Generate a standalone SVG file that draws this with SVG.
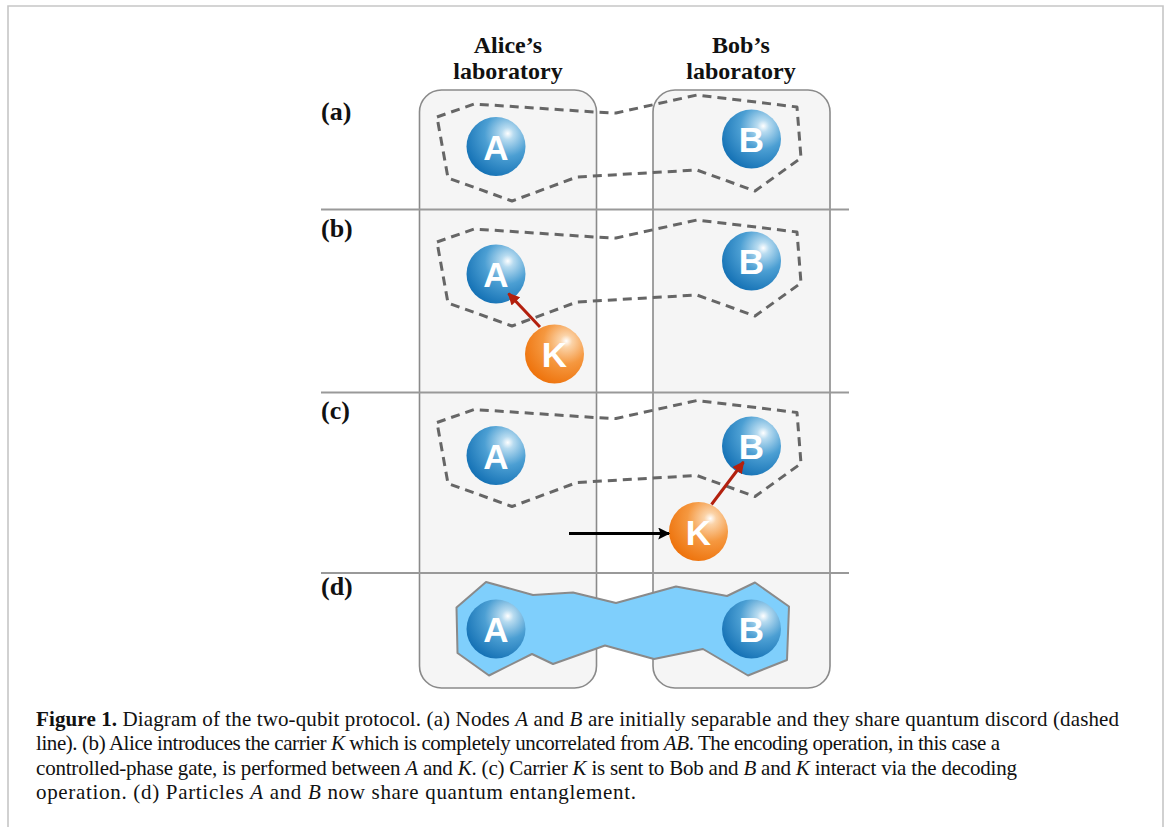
<svg xmlns="http://www.w3.org/2000/svg" width="1167" height="827" viewBox="0 0 1167 827">
<style>
.frame{fill:none;stroke:#c6c6c6;stroke-width:1.6}
.lab{fill:#f5f5f5;stroke:#8a8a8a;stroke-width:1.6}
.sep{stroke:#999;stroke-width:2}
.disc{fill:none;stroke:#666;stroke-width:3;stroke-dasharray:9 6;stroke-linejoin:round}
.ent{fill:#7fcffc;stroke:#8a8a8a;stroke-width:2;stroke-linejoin:round}
.head{font-family:"Liberation Serif",serif;font-weight:bold;font-size:24px;fill:#111;text-anchor:middle}
.plab{font-family:"Liberation Serif",serif;font-weight:bold;font-size:26px;fill:#111}
.ltr{font-family:"Liberation Sans",Arial,sans-serif;font-weight:bold;font-size:35px;fill:#fff;text-anchor:middle}
.cap{font-family:"Liberation Serif",serif;font-size:21px;fill:#111}
.red{stroke:#b3200e;stroke-width:3;fill:none}
.blk{stroke:#000;stroke-width:3;fill:none}
</style>
<defs>
<radialGradient id="gBlue" cx="0.68" cy="0.3" r="0.85" fx="0.7" fy="0.28">
<stop offset="0" stop-color="#ffffff"/>
<stop offset="0.12" stop-color="#b7dbf0"/>
<stop offset="0.45" stop-color="#4c9fd3"/>
<stop offset="1" stop-color="#0867ae"/>
</radialGradient>
<radialGradient id="gOrange" cx="0.68" cy="0.3" r="0.85" fx="0.7" fy="0.28">
<stop offset="0" stop-color="#ffffff"/>
<stop offset="0.12" stop-color="#fbd3a8"/>
<stop offset="0.45" stop-color="#f59840"/>
<stop offset="1" stop-color="#ec6a00"/>
</radialGradient>
<marker id="mRed" viewBox="0 0 10 10" refX="9" refY="5" markerWidth="4" markerHeight="4" orient="auto" markerUnits="strokeWidth">
<path d="M0,0 L10,5 L0,10 Z" fill="#b3200e"/>
</marker>
<marker id="mBlk" viewBox="0 0 10 10" refX="9" refY="5" markerWidth="4.5" markerHeight="4" orient="auto" markerUnits="strokeWidth">
<path d="M0,0 L10,5 L0,10 L2,5 Z" fill="#000"/>
</marker>
<path id="discPath" d="M437,117 L474,104 L595,112 L616,113 L697,95 L797,107 L801,158 L755,191 L697,170 L577,177 L512,201 L448,178 Z"/>
<circle id="ball" r="29.5"/>
</defs>

<path class="frame" d="M8,827 V6 H1163 V827"/>

<g id="alice-lab"><rect class="lab" x="419.5" y="90" width="177" height="598" rx="22"/></g>
<g id="bob-lab"><rect class="lab" x="653" y="90" width="177" height="598" rx="22"/></g>

<g id="separators">
<line class="sep" x1="321" y1="209.5" x2="849" y2="209.5"/>
<line class="sep" x1="321" y1="392.5" x2="849" y2="392.5"/>
<line class="sep" x1="321" y1="573" x2="849" y2="573"/>
</g>

<text class="head" x="508" y="53">Alice’s</text>
<text class="head" x="508" y="79">laboratory</text>
<text class="head" x="741" y="53">Bob’s</text>
<text class="head" x="741" y="79">laboratory</text>

<text class="plab" x="321" y="120">(a)</text>
<text class="plab" x="321" y="237">(b)</text>
<text class="plab" x="321" y="419">(c)</text>
<text class="plab" x="321" y="595">(d)</text>

<g id="discord">
<use href="#discPath" class="disc"/>
<use href="#discPath" class="disc" transform="translate(0,125)"/>
<use href="#discPath" class="disc" transform="translate(0,305.5)"/>
</g>

<g id="entanglement">
<path class="ent" d="M486,582 L533,595 L573,592.5 L616,603 L676,586.5 L727,596 L755,582.5 L789,606.5 L787,660 L748,675.5 L703,649 L654,659 L605,645.5 L553,664 L532,654 L489,675.5 L457.5,653 L456.5,607.5 Z"/>
</g>

<g id="node-a-A"><use href="#ball" x="496" y="146.5" fill="url(#gBlue)"/><text class="ltr" x="496" y="159.5">A</text></g>
<g id="node-a-B"><use href="#ball" x="751.5" y="139" fill="url(#gBlue)"/><text class="ltr" x="751.5" y="152">B</text></g>

<g id="node-b-A"><use href="#ball" x="496" y="274" fill="url(#gBlue)"/><text class="ltr" x="496" y="287">A</text></g>
<g id="node-b-B"><use href="#ball" x="751.5" y="261" fill="url(#gBlue)"/><text class="ltr" x="751.5" y="274">B</text></g>
<g id="node-b-K"><use href="#ball" x="554.5" y="354" fill="url(#gOrange)"/><text class="ltr" x="554.5" y="367">K</text></g>

<g id="node-c-A"><use href="#ball" x="496" y="455.5" fill="url(#gBlue)"/><text class="ltr" x="496" y="468.5">A</text></g>
<g id="node-c-B"><use href="#ball" x="751.5" y="446" fill="url(#gBlue)"/><text class="ltr" x="751.5" y="459">B</text></g>
<g id="node-c-K"><use href="#ball" x="698.5" y="531.5" fill="url(#gOrange)"/><text class="ltr" x="698.5" y="544.5">K</text></g>

<g id="node-d-A"><use href="#ball" x="496" y="629" fill="url(#gBlue)"/><text class="ltr" x="496" y="642">A</text></g>
<g id="node-d-B"><use href="#ball" x="751.5" y="629" fill="url(#gBlue)"/><text class="ltr" x="751.5" y="642">B</text></g>

<g id="connectors">
<line class="red" x1="540" y1="327" x2="508.5" y2="293.5" marker-end="url(#mRed)"/>
<line class="red" x1="711.5" y1="504.5" x2="743.5" y2="462" marker-end="url(#mRed)"/>
<line class="blk" x1="569" y1="533.5" x2="669" y2="533.5" marker-end="url(#mBlk)"/>
</g>

<g id="caption">
<text class="cap" x="36" y="726" textLength="1083" lengthAdjust="spacing"><tspan font-weight="bold">Figure 1.</tspan> Diagram of the two-qubit protocol. (a) Nodes <tspan font-style="italic">A</tspan> and <tspan font-style="italic">B</tspan> are initially separable and they share quantum discord (dashed</text>
<text class="cap" x="36" y="750" textLength="964" lengthAdjust="spacing">line). (b) Alice introduces the carrier <tspan font-style="italic">K</tspan> which is completely uncorrelated from <tspan font-style="italic">AB</tspan>. The encoding operation, in this case a</text>
<text class="cap" x="36" y="775" textLength="981" lengthAdjust="spacing">controlled-phase gate, is performed between <tspan font-style="italic">A</tspan> and <tspan font-style="italic">K</tspan>. (c) Carrier <tspan font-style="italic">K</tspan> is sent to Bob and <tspan font-style="italic">B</tspan> and <tspan font-style="italic">K</tspan> interact via the decoding</text>
<text class="cap" x="36" y="799" textLength="600" lengthAdjust="spacing">operation. (d) Particles <tspan font-style="italic">A</tspan> and <tspan font-style="italic">B</tspan> now share quantum entanglement.</text>
</g>
</svg>
